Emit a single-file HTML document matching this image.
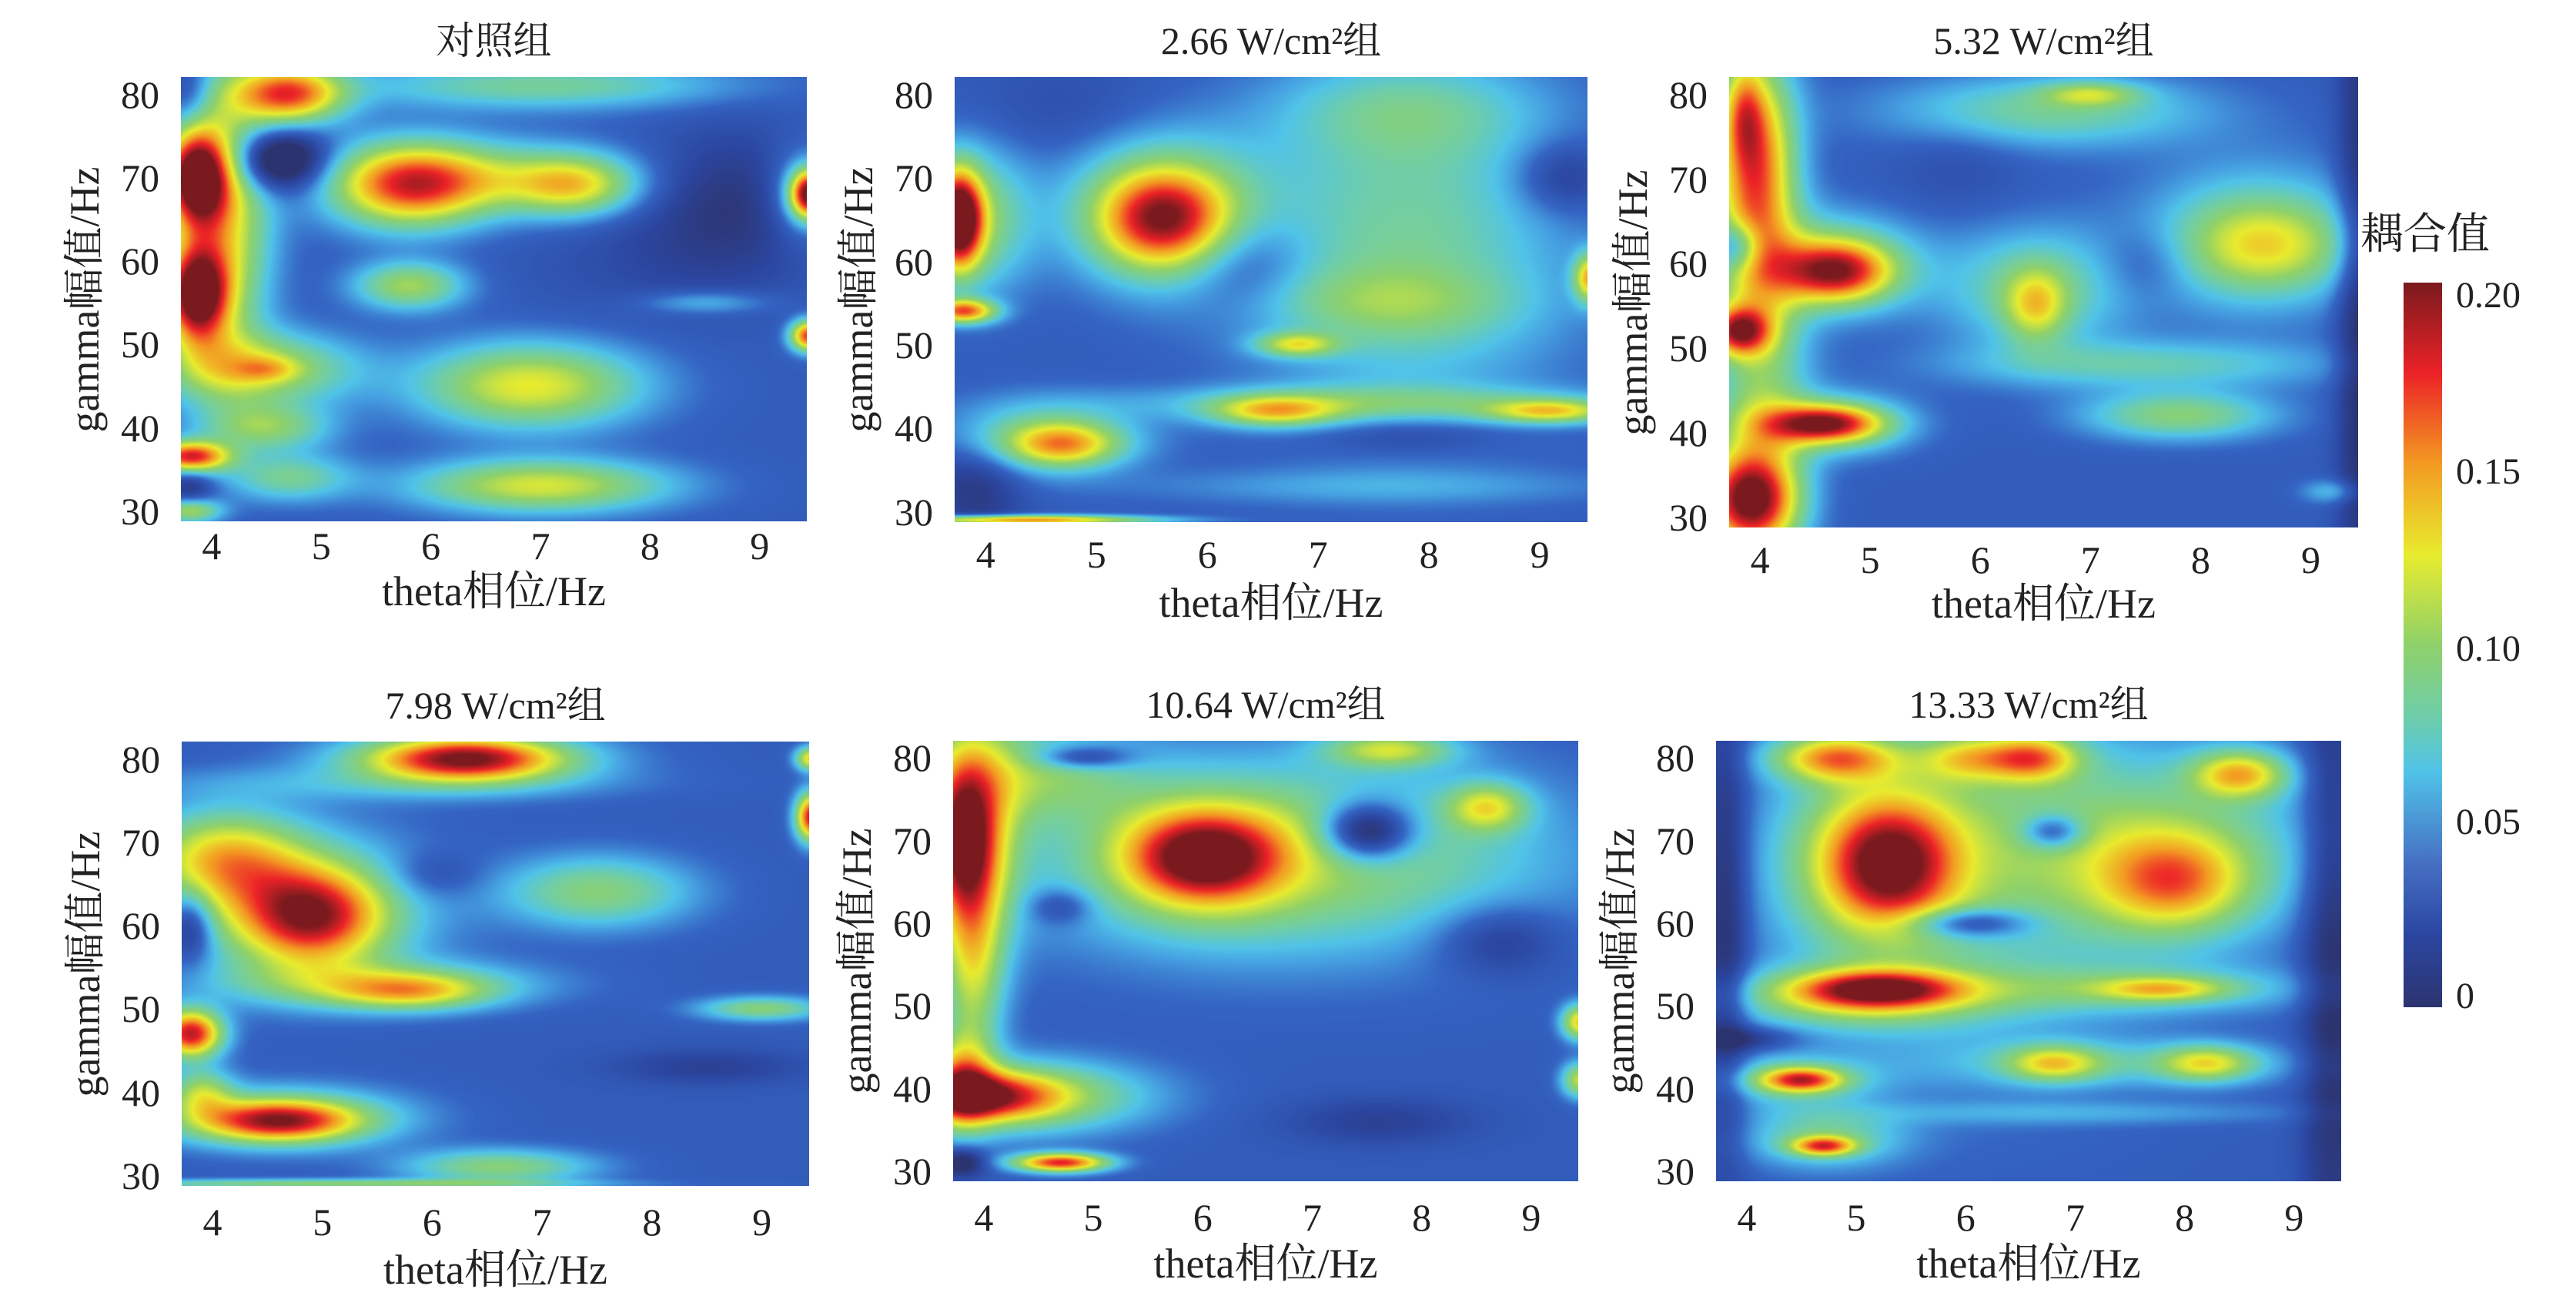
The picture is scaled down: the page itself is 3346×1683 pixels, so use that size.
<!DOCTYPE html>
<html><head><meta charset="utf-8">
<style>
body{margin:0;background:#fff;width:3346px;height:1683px;position:relative;overflow:hidden;font-family:"Liberation Serif","Noto Serif CJK SC",serif;color:#222}
.t{position:absolute;white-space:nowrap;line-height:1}
canvas{position:absolute}
</style></head><body>
<div id="root"></div>
<div class="t" style="left:3066px;top:272px;font-size:56px;font-family:'Noto Serif CJK SC','Liberation Serif',serif">耦合值</div>
<div style="position:absolute;left:3122px;top:367px;width:50px;height:941px;background:linear-gradient(to bottom,#7a1a1e 0%,#ec2227 12.5%,#f39a22 25%,#e8eb2e 37.5%,#8fd16a 50%,#6ecdaa 60%,#50c3e8 67.5%,#4670c3 80%,#2b46a0 90%,#2c3470 100%)"></div>
<div class="t" style="left:3190px;top:360px;font-size:48px">0.20</div>
<div class="t" style="left:3190px;top:589px;font-size:48px">0.15</div>
<div class="t" style="left:3190px;top:819px;font-size:48px">0.10</div>
<div class="t" style="left:3190px;top:1044px;font-size:48px">0.05</div>
<div class="t" style="left:3190px;top:1270px;font-size:48px">0</div>
<script>
var stops=[[0,44,52,112],[0.02,43,70,160],[0.04,52,100,195],[0.055,70,160,225],[0.065,80,195,232],[0.08,110,205,170],[0.1,143,209,106],[0.125,232,235,46],[0.15,243,154,34],[0.175,236,34,39],[0.2,122,26,30]];
var lut=[];for(var i=0;i<=400;i++){var v=i/2000,j=0;while(j<stops.length-2&&v>stops[j+1][0])j++;var a=stops[j],b=stops[j+1],f=(v-a[0])/(b[0]-a[0]);f=Math.max(0,Math.min(1,f));lut.push([a[1]+(b[1]-a[1])*f,a[2]+(b[2]-a[2])*f,a[3]+(b[3]-a[3])*f]);}
var P=[
{x:235,y:100,w:813,h:577,title:"对照组",tk:32,lb:92,base:0.035,b:[
[3.8,80,0.15,3,-0.03],[4.7,80,0.35,2.5,0.13],[4.1,65,0.3,12,0.09],[3.85,70,0.2,4,0.16],[3.85,56,0.2,4,0.16],[4.6,72,0.3,2.5,-0.08],[5.8,69,0.5,3.5,0.12],[6.5,70,0.8,3,0.05],[7.3,69,0.4,2.5,0.08],[4.4,47,0.6,3,0.08],[4.5,47,0.2,1,0.03],[5.8,57,0.35,2,0.07],[6.9,45,0.7,3.5,0.09],[4.5,40,0.4,2,0.06],[3.8,36.5,0.25,1.3,0.14],[7,33,0.8,2.2,0.085],[4.7,34,0.4,2,0.05],[7,81,1.2,2,0.05],[8.8,67,0.6,6,-0.03],[9.45,68,0.12,2,0.16],[9.4,68,0.25,4,0.04],[9.45,51,0.12,1.3,0.14],[8.5,55,0.4,1,0.03],[3.8,30,0.2,1,0.07],[3.8,33,0.15,1.5,-0.03],[8,60,0.8,5,-0.01]]},
{x:1240,y:100,w:822,h:578,title:"2.66 W/cm²组",tk:42,lb:106,base:0.035,b:[
[5.6,65,0.4,4,0.1],[5.6,66,0.6,6,0.07],[3.75,65,0.15,4,0.17],[3.9,65,0.35,6,0.06],[3.8,54,0.2,1,0.12],[7.8,62,1.0,14,0.05],[7.6,55,0.8,3,0.03],[7.8,78,0.8,4,0.03],[6.3,60,0.4,4,-0.03],[9.2,70,0.3,3,-0.03],[6.8,50,0.25,1,0.07],[6.6,42,0.4,1.3,0.08],[9.1,42,0.4,1,0.08],[7.5,43,1.5,1.5,0.04],[4.7,38,0.35,1.8,0.08],[4.5,39,0.6,3,0.05],[7.8,39,0.6,1.5,-0.02],[4.3,29,0.8,0.4,0.12],[9.45,58,0.1,2,0.1],[7.5,33,1.5,1.5,0.02],[3.9,33,0.3,4,-0.03],[4.7,78,0.6,4,-0.01]]},
{x:2246,y:100,w:817,h:585,title:"5.32 W/cm²组",tk:42,lb:100,base:0.035,b:[
[3.95,72,0.25,9,0.12],[3.85,78,0.12,4,0.05],[4.7,59,0.35,2.5,0.11],[4.6,60,0.55,4,0.06],[3.8,62,0.15,2,-0.06],[3.8,52,0.2,2,0.12],[4.6,41,0.35,1.5,0.11],[4.6,41,0.5,2.5,0.06],[3.9,32,0.3,4,0.15],[4.0,47,0.3,15,0.06],[8.6,62,0.5,3.5,0.05],[8.5,63,0.7,6,0.05],[6.5,55,0.2,3,0.06],[6.5,57,0.6,5,0.05],[6.6,78,1.0,3,0.05],[7.0,80,0.3,1,0.05],[7.5,48,1.2,2,0.04],[7.8,42,0.6,2,0.06],[9.45,55,0.15,30,-0.04],[7.5,60,0.3,3,-0.02],[5.8,72,0.4,4,-0.01],[9.2,33,0.2,1,0.03]]},
{x:236,y:963,w:815,h:577,title:"7.98 W/cm²组",tk:47,lb:110,base:0.035,b:[
[6.3,80,0.6,1.8,0.13],[6.3,80,0.9,2.5,0.04],[4.1,68,0.5,4,0.09],[4.9,61,0.45,4,0.11],[4.8,62,0.8,6,0.06],[5.8,52,0.5,1.5,0.07],[5.5,53,1,2,0.05],[3.8,60,0.15,3,-0.05],[3.8,47,0.2,2,0.15],[4.6,36.5,0.5,1.7,0.11],[4.6,37,0.8,2.5,0.06],[3.9,40,0.2,2,0.06],[7.5,64,0.6,3,0.06],[9.0,50,0.4,1,0.06],[6.6,31,0.6,1.5,0.06],[5.5,77,1.5,1.5,0.02],[9.45,73,0.1,2,0.15],[9.45,80,0.1,1,0.1],[5,29,1.5,0.4,0.06],[8.5,43,0.6,1.5,-0.02],[6.0,66,0.3,2,-0.02]]},
{x:1238,y:962,w:812,h:572,title:"10.64 W/cm²组",tk:47,lb:108,base:0.035,b:[
[3.8,70,0.2,6,0.1],[3.9,72,0.3,10,0.08],[4.0,39,0.45,2,0.09],[4.3,39,0.8,3,0.08],[3.8,41,0.2,4,0.08],[4.7,31,0.3,0.8,0.14],[6.0,68,0.45,3.5,0.08],[6.0,68,0.6,5,0.06],[6.8,68,1.6,8,0.07],[4.5,78,0.6,4,0.05],[8.6,74,0.25,2,0.07],[7.7,81,0.4,1.5,0.07],[7.5,71,0.3,2.5,-0.09],[4.9,80,0.3,1,-0.05],[8.7,58,0.4,3,-0.03],[7.6,36,0.6,2,-0.02],[3.9,55,0.2,8,0.07],[9.45,48,0.12,1.5,0.1],[9.45,41,0.12,1.5,0.08],[3.8,31,0.15,1.2,-0.05],[4.7,62,0.2,1.5,-0.03]]},
{x:2229,y:962,w:812,h:572,title:"13.33 W/cm²组",tk:47,lb:108,base:0.035,b:[
[3.8,60,0.15,20,-0.04],[9.35,55,0.2,30,-0.04],[6,62,1.2,15,0.03],[5.3,67,0.4,5,0.09],[5.2,68,0.6,8,0.07],[6.6,80,0.3,2,0.1],[4.8,80,0.4,2,0.1],[6.0,80,0.3,2,0.06],[7.9,65,0.4,3.5,0.04],[7.9,65,0.6,5,0.05],[8.5,78,0.3,2,0.09],[7.5,70,1.2,8,0.05],[6.8,71,0.2,1.5,-0.06],[6.0,60,0.4,1.3,-0.06],[5.2,52,0.5,1.5,0.1],[5.0,51,0.8,2.5,0.07],[7.8,52,0.4,1,0.06],[7.5,52,1.2,2,0.04],[6.8,43,0.3,1.5,0.07],[8.2,43,0.3,1.5,0.07],[7.5,43,1.2,2,0.03],[4.5,41,0.25,1,0.1],[4.4,41,0.5,2,0.05],[4.7,33,0.2,0.8,0.1],[4.7,34,0.5,2.5,0.05],[7,37,1.5,1,0.02],[4.0,46,0.3,1,-0.03]]}
];
var X0=3.72,X1=9.43,Y0=28.7,Y1=82;
var root=document.getElementById('root'),html='';
P.forEach(function(p,k){
 var c=document.createElement('canvas');c.width=p.w;c.height=p.h;c.style.left=p.x+'px';c.style.top=p.y+'px';document.body.appendChild(c);
 var ctx=c.getContext('2d'),im=ctx.createImageData(p.w,p.h),d=im.data;
 var gx=[],gy=[];
 p.b.forEach(function(b){var ax=new Float32Array(p.w),ay=new Float32Array(p.h);
  for(var i=0;i<p.w;i++){var x=X0+(X1-X0)*i/p.w;ax[i]=Math.exp(-0.5*Math.pow((x-b[0])/b[2],2));}
  for(var j=0;j<p.h;j++){var y=Y1-(Y1-Y0)*j/p.h;ay[j]=b[4]*Math.exp(-0.5*Math.pow((y-b[1])/b[3],2));}
  gx.push(ax);gy.push(ay);});
 for(var j=0;j<p.h;j++)for(var i=0;i<p.w;i++){var v=p.base;for(var q=0;q<gx.length;q++)v+=gx[q][i]*gy[q][j];
  v=Math.max(0,Math.min(0.2,v));var col=lut[Math.round(v*2000)],o=(j*p.w+i)*4;d[o]=col[0];d[o+1]=col[1];d[o+2]=col[2];d[o+3]=255;}
 ctx.putImageData(im,0,0);
 var cx=p.x+p.w/2;
 html+='<div class="t" style="left:'+cx+'px;top:'+(p.y-72)+'px;font-size:50px;transform:translateX(-50%)">'+p.title+'</div>';
 for(var t=4;t<=9;t++){var px=p.x+(t-X0)/(X1-X0)*p.w;html+='<div class="t" style="left:'+px+'px;top:'+(p.y+p.h+p.tk-25)+'px;font-size:50px;transform:translateX(-50%)">'+t+'</div>';}
 for(var t=30;t<=80;t+=10){var py=p.y+(Y1-t)/(Y1-Y0)*p.h;html+='<div class="t" style="left:'+(p.x-28)+'px;top:'+(py-24)+'px;font-size:50px;transform:translateX(-100%)">'+t+'</div>';}
 html+='<div class="t" style="left:'+cx+'px;top:'+(p.y+p.h+p.lb-28)+'px;font-size:54px;transform:translateX(-50%)">theta相位/Hz</div>';
 html+='<div class="t" style="left:'+(p.x-125)+'px;top:'+(p.y+p.h/2)+'px;font-size:54px;transform:translate(-50%,-50%) rotate(-90deg)">gamma幅值/Hz</div>';
});
root.innerHTML=html;
</script>
</body></html>
